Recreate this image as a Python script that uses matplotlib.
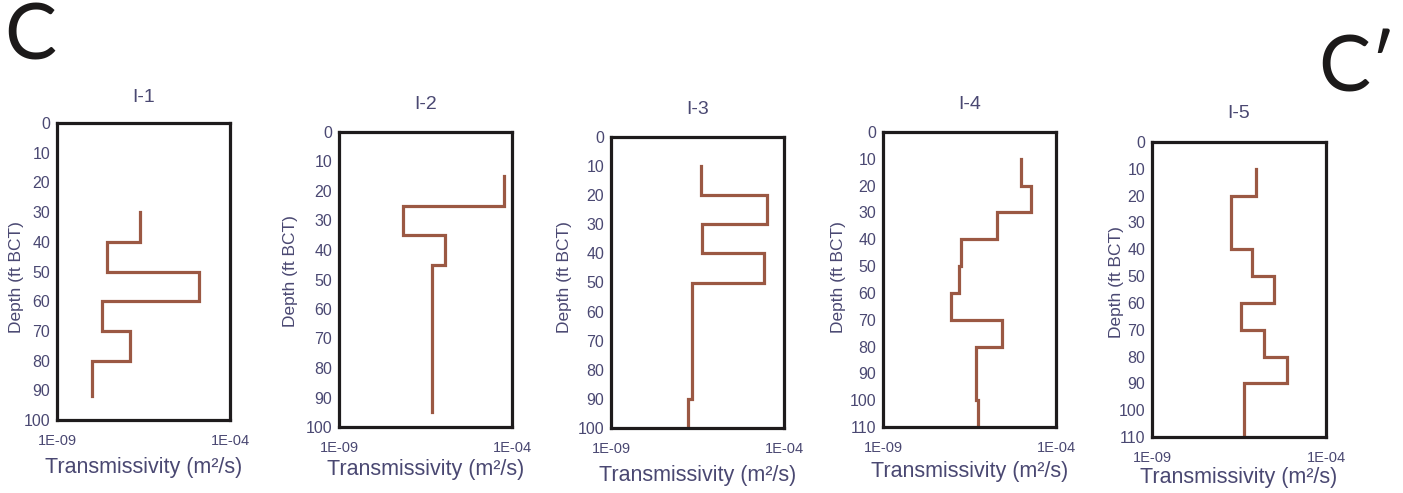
import numpy as np
import matplotlib
matplotlib.use("Agg")
import matplotlib.pyplot as plt

# ---- data (log10 transmissivity per depth interval) ----
titles = ["I-1", "I-2", "I-3", "I-4", "I-5"]
depth_max = [100, 100, 100, 110, 110]
ytick_sets = [list(range(0, 101, 10)), list(range(0, 101, 10)), list(range(0, 101, 10)),
              list(range(0, 111, 10)), list(range(0, 111, 10))]

d1 = [30, 40, 50, 60, 70, 80, 92]
t1 = [-6.6, -7.55, -4.9, -7.7, -6.9, -8.0]

d2 = [15, 25, 35, 45, 95]
t2 = [-4.23, -7.16, -5.94, -6.32]

d3 = [10, 20, 30, 40, 50, 90, 100]
t3 = [-6.4, -4.5, -6.36, -4.58, -6.66, -6.78]

d4 = [10, 20, 30, 40, 50, 60, 70, 80, 100, 110]
t4 = [-5.02, -4.73, -5.7, -6.75, -6.81, -7.04, -5.57, -6.32, -6.25]

d5 = [10, 20, 30, 40, 50, 60, 70, 80, 90, 110]
t5 = [-6.01, -6.72, -6.74, -6.12, -5.49, -6.43, -5.78, -5.11, -6.36]

depths = [d1, d2, d3, d4, d5]
logT = [t1, t2, t3, t4, t5]
xtick_vals = [1e-9, 1e-4]
xtick_labels = ["1E-09", "1E-04"]

# ---- layout (pixel boxes: left, top, right, bottom) ----
W, H = 1403, 493
boxes = [(57, 123, 230, 420), (339, 132, 512, 427), (611, 137, 784, 428),
         (883, 132, 1056, 427), (1152, 142, 1326, 437)]
xlabel_off = [47, 43, 47, 45, 41]
ylabel_xoff = [40, 49, 46, 45, 36]
ylabel_yc = [277, 271, 277, 277, 282]
title_off = [25, 27, 27, 27, 29]

txt = "#4a4872"
line_c = "#9b5843"
font = "Liberation Sans"

fig = plt.figure(figsize=(W / 100, H / 100), dpi=100)

for i in range(5):
    l, t, r, b = boxes[i]
    h = b - t
    w = r - l
    ax = fig.add_axes([l / W, 1 - b / H, w / W, h / H])
    d = depths[i]
    T = 10 ** np.array(logT[i])
    xs, ys = [], []
    for k in range(len(T)):
        xs += [T[k], T[k]]
        ys += [d[k], d[k + 1]]
    ax.plot(xs, ys, color=line_c, lw=2.3, solid_joinstyle="miter")
    ax.set_xscale("log")
    ax.set_xlim(1e-9, 1e-4)
    ax.set_ylim(depth_max[i], 0)
    ax.set_yticks(ytick_sets[i])
    ax.set_yticklabels([str(v) for v in ytick_sets[i]], fontsize=11.5,
                       color=txt, family=font)
    ax.set_xticks(xtick_vals)
    ax.set_xticklabels(xtick_labels, fontsize=10.5, color=txt, family=font)
    ax.minorticks_off()
    ax.tick_params(axis="both", length=0)
    ax.tick_params(axis="x", pad=10)
    ax.tick_params(axis="y", pad=5)
    for s in ax.spines.values():
        s.set_linewidth(2.3)
        s.set_color("#1e1b1c")
    ax.set_ylabel("Depth (ft BCT)", fontsize=12.5, color=txt, family=font, va="center")
    ax.yaxis.set_label_coords(-ylabel_xoff[i] / w, (b - ylabel_yc[i]) / h)
    ax.set_xlabel("Transmissivity (m\u00b2/s)", fontsize=15.5, color=txt, family=font,
                  va="center")
    ax.xaxis.set_label_coords(0.5, -xlabel_off[i] / h)
    ax.set_title(titles[i], fontsize=14, color=txt, family=font, va="center",
                 y=1 + title_off[i] / h, pad=0)

fig.text(4 / W, 1 - 38 / H, "C", fontsize=56, family="Lato",
         color="#1c1a1a", ha="left", va="center")
fig.text(1318 / W, 1 - 70 / H, "C\u2032", fontsize=56, family="Lato",
         color="#1c1a1a", ha="left", va="center")

fig.savefig("out.png", dpi=100, facecolor="white")
